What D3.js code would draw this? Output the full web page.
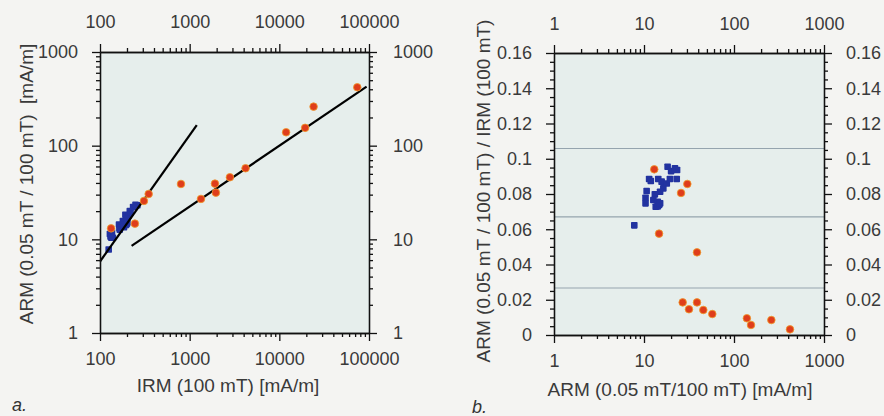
<!DOCTYPE html>
<html>
<head>
<meta charset="utf-8">
<script src="https://cdn.jsdelivr.net/npm/d3@7"></script>
<style>
  html, body { margin: 0; padding: 0; background: #f4f4f2; }
  svg { display: block; font-family: "Liberation Sans", Arial, sans-serif; }
  .tick text { fill: #3a3a3a; font-size: 18px; }
  .axis path, .axis line { stroke: #111; stroke-width: 1.3; }
  .title { fill: #3a3a3a; font-size: 19px; }
</style>
</head>
<body>
<svg id="chart" width="884" height="416"></svg>
<script>
// ---- data, panel a: IRM (100 mT) vs ARM, log-log ----
const irmRed = [74000, 24100, 19400, 11900, 4200, 2810, 1915, 1960, 800, 1337, 349, 309, 245, 133];
const armRed = [420, 261, 155, 139, 57.4, 46, 39.3, 31.5, 39, 27, 30.5, 25.7, 14.7, 13.1];
const irmBlue = [192, 215, 234, 249, 129, 136, 163, 180, 208, 219, 261, 197, 186, 131, 134, 165, 166, 188, 185, 199, 139, 195, 202, 125];
const armBlue = [18.3, 20, 22.1, 23.3, 11.4, 11.9, 14.4, 15.7, 17.9, 19.4, 23.1, 16.4, 15.1, 10.7, 10.4, 13.2, 12.7, 14.2, 13.5, 14.7, 10.4, 14.2, 15.1, 7.8];
// regression lines (end points, IRM / ARM)
const fitSteep = [[100, 5.8], [1200, 166]];
const fitFlat = [[225, 8.5], [94000, 427]];

// ---- data, panel b: ARM vs ARM/IRM ----
const armRedB = [13.0, 30.3, 25.8, 14.7, 38.8, 26.9, 31.6, 38.8, 45.6, 57.4, 139, 154.5, 260, 419];
const ratioRedB = [0.094, 0.0857, 0.0806, 0.0575, 0.0469, 0.0185, 0.0146, 0.0185, 0.0142, 0.0119, 0.0095, 0.0057, 0.0085, 0.0032];
const armBlueB = [18.3, 20, 22.1, 23.3, 11.4, 11.9, 14.4, 15.7, 17.9, 19.4, 23.1, 16.4, 15.1, 10.7, 10.4, 13.2, 12.7, 14.2, 13.5, 14.7, 10.4, 14.2, 15.1, 7.8];
const ratioBlueB = [0.0955, 0.093, 0.0946, 0.0936, 0.0885, 0.0874, 0.0885, 0.087, 0.086, 0.0885, 0.0885, 0.0832, 0.0813, 0.0817, 0.0779, 0.0798, 0.0766, 0.0756, 0.0728, 0.0738, 0.0747, 0.073, 0.0747, 0.0622];
const refLines = [0.1058, 0.067, 0.0267];

// tick values
const irmTicks = [100, 1000, 10000, 100000];
const armTicksA = [1, 10, 100, 1000];
const armTicksB = [1, 10, 100, 1000];
const ratioTicks = [0, 0.02, 0.04, 0.06, 0.08, 0.1, 0.12, 0.14, 0.16];

const RED = '#df3d1b', RED_EDGE = '#f09a2a', BLUE = '#2233a0';
const svg = d3.select('#chart');

// minor ticks for a log domain (2..9 of each decade)
function logMinors(lo, hi) {
  const out = [];
  for (let d = lo; d < hi; d *= 10)
    for (let k = 2; k <= 9; k++) out.push(d * k);
  return out;
}

// draw the four axes of a panel (major + minor ticks, labels outside)
// pad = label padding per side {b, t, l, r}
function frame(g, x, y, xMaj, xMin, yMaj, yMin, fmtY, pad) {
  const [x0, x1] = x.range(), [y0, y1] = y.range();
  const fmtX = d3.format('');
  const mk = (fn, scale, vals, size, fmt, p, tf) => {
    const ax = g.append('g').attr('class', 'axis').attr('transform', tf)
      .call(fn(scale).tickValues(vals).tickSize(size).tickSizeOuter(0).tickPadding(p)
        .tickFormat(fmt || ''));
    if (!fmt) ax.selectAll('text').remove();
  };
  // bottom / top
  mk(d3.axisBottom, x, xMaj, 8, fmtX, pad.b, `translate(0,${y0})`);
  mk(d3.axisBottom, x, xMin, 4, null, 0, `translate(0,${y0})`);
  mk(d3.axisTop, x, xMaj, 8, fmtX, pad.t, `translate(0,${y1})`);
  mk(d3.axisTop, x, xMin, 4, null, 0, `translate(0,${y1})`);
  // left / right
  mk(d3.axisLeft, y, yMaj, 8, fmtY, pad.l, `translate(${x0},0)`);
  mk(d3.axisLeft, y, yMin, 4, null, 0, `translate(${x0},0)`);
  mk(d3.axisRight, y, yMaj, 8, fmtY, pad.r, `translate(${x1},0)`);
  mk(d3.axisRight, y, yMin, 4, null, 0, `translate(${x1},0)`);
}

function squares(g, xs, ys, x, y) {
  g.append('g').selectAll('rect')
    .data(xs.map((v, i) => [v, ys[i]]))
    .join('rect')
      .attr('x', d => x(d[0]) - 3.3)
      .attr('y', d => y(d[1]) - 3.3)
      .attr('width', 6.6).attr('height', 6.6)
      .attr('rx', 0.8)
      .attr('fill', BLUE);
}

function dots(g, xs, ys, x, y) {
  g.append('g').selectAll('circle')
    .data(xs.map((v, i) => [v, ys[i]]))
    .join('circle')
      .attr('cx', d => x(d[0]))
      .attr('cy', d => y(d[1]))
      .attr('r', 3.8)
      .attr('fill', RED)
      .attr('stroke', RED_EDGE)
      .attr('stroke-width', 0.8);
}

// ---------- panel a ----------
{
  const x = d3.scaleLog().domain([100, 100000]).range([100, 369]);
  const y = d3.scaleLog().domain([1, 1000]).range([333, 52]);
  const g = svg.append('g');

  g.append('rect').attr('x', 100).attr('y', 52).attr('width', 269).attr('height', 281)
    .attr('fill', '#e6eeec');

  squares(g, irmBlue, armBlue, x, y);

  const line = d3.line().x(d => x(d[0])).y(d => y(d[1]));
  [fitSteep, fitFlat].forEach(p => {
    g.append('path').attr('d', line(p)).attr('fill', 'none')
      .attr('stroke', '#000').attr('stroke-width', 2.2);
  });

  dots(g, irmRed, armRed, x, y);

  frame(g, x, y, irmTicks, logMinors(100, 100000), armTicksA, logMinors(1, 1000), d3.format(''),
    { b: 11, t: 16, l: 14, r: 16 });

  g.append('text').attr('class', 'title')
    .attr('x', 228).attr('y', 392).attr('text-anchor', 'middle')
    .text('IRM (100 mT) [mA/m]');
  g.append('text').attr('class', 'title')
    .attr('transform', 'translate(33,184) rotate(-90)')
    .attr('text-anchor', 'middle')
    .attr('xml:space', 'preserve')
    .text('ARM (0.05 mT / 100 mT)  [mA/m]');
  g.append('text').attr('x', 12).attr('y', 411)
    .attr('font-style', 'italic').attr('font-size', 18).attr('fill', '#333')
    .text('a.');
}

// ---------- panel b ----------
{
  const x = d3.scaleLog().domain([1, 1000]).range([554, 824]);
  const y = d3.scaleLinear().domain([0, 0.16]).range([335, 53]);
  const g = svg.append('g');

  g.append('rect').attr('x', 554).attr('y', 53).attr('width', 270).attr('height', 282)
    .attr('fill', '#e6eeec');

  g.append('g').selectAll('line')
    .data(refLines)
    .join('line')
      .attr('x1', 554).attr('x2', 824)
      .attr('y1', d => y(d)).attr('y2', d => y(d))
      .attr('stroke', '#95a4ae').attr('stroke-width', 1.1);

  squares(g, armBlueB, ratioBlueB, x, y);
  dots(g, armRedB, ratioRedB, x, y);

  const ratioMinor = d3.range(0, 0.1601, 0.005).filter(v => Math.abs(v / 0.02 - Math.round(v / 0.02)) > 1e-6);
  frame(g, x, y, armTicksB, logMinors(1, 1000), ratioTicks, ratioMinor, d => d3.format('')(+d.toFixed(2)),
    { b: 11, t: 15, l: 14, r: 14 });

  g.append('text').attr('class', 'title')
    .attr('x', 680).attr('y', 396).attr('text-anchor', 'middle')
    .text('ARM (0.05 mT/100 mT) [mA/m]');
  g.append('text').attr('class', 'title')
    .attr('transform', 'translate(490,191) rotate(-90)')
    .attr('text-anchor', 'middle')
    .text('ARM (0.05 mT / 100 mT) / IRM (100 mT)');
  g.append('text').attr('x', 472).attr('y', 413)
    .attr('font-style', 'italic').attr('font-size', 18).attr('fill', '#333')
    .text('b.');
}
</script>
</body>
</html>
